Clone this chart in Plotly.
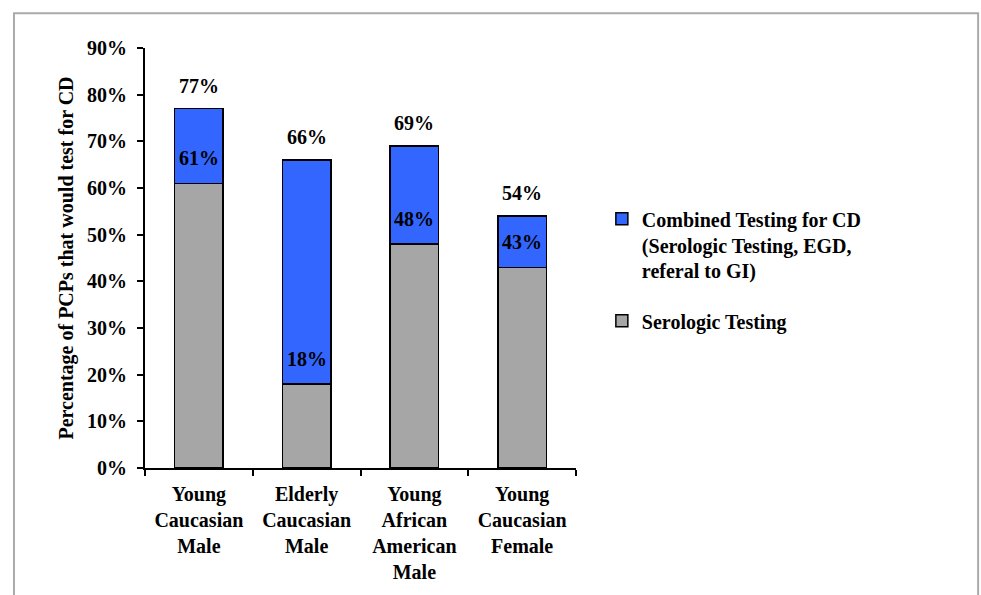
import plotly.graph_objects as go

categories = ["Young<br>Caucasian<br>Male", "Elderly<br>Caucasian<br>Male",
              "Young<br>African<br>American<br>Male", "Young<br>Caucasian<br>Female"]
serologic = [61, 18, 48, 43]
combined_total = [77, 66, 69, 54]
combined_extra = [t - s for t, s in zip(combined_total, serologic)]

FONT = "Liberation Serif"
FS = 20
BLUE = "#3366FF"
GRAY = "#A6A6A6"

def bold_font(size=FS):
    return dict(family=FONT, size=size, color="black", weight="bold")

fig = go.Figure()
fig.add_trace(go.Bar(x=categories, y=serologic, name="Serologic Testing",
                     marker=dict(color=GRAY, line=dict(color="black", width=1.5)),
                     legendrank=2, legendgroup="b"))
fig.add_trace(go.Bar(x=categories, y=combined_extra,
                     name="Combined Testing for CD<br>(Serologic Testing, EGD,<br>referal to GI)",
                     marker=dict(color=BLUE, line=dict(color="black", width=1.5)),
                     legendrank=1, legendgroup="a"))

for c, s, t in zip(categories, serologic, combined_total):
    fig.add_annotation(x=c, y=t, text=f"{t}%", showarrow=False, yanchor="bottom",
                       yshift=10, font=bold_font())
    fig.add_annotation(x=c, y=s, text=f"{s}%", showarrow=False, yanchor="bottom",
                       yshift=12, font=bold_font())

fig.add_shape(type="rect", xref="paper", yref="paper", x0=-0.304, x1=1.933, y0=-0.32, y1=1.083,
              line=dict(color="#AAAAAA", width=2), layer="below")

fig.update_layout(
    width=981, height=595,
    margin=dict(l=145, r=405, t=48, b=127),
    paper_bgcolor="white", plot_bgcolor="white",
    barmode="stack", bargap=0.55,
    showlegend=True,
    legend=dict(x=1.06, y=0.64, xanchor="left", yanchor="top", traceorder="grouped",
                tracegroupgap=21, valign="top", itemwidth=30,
                font=bold_font()),
    font=dict(family=FONT, size=FS, color="black"),
)
fig.update_yaxes(range=[0, 90], dtick=10, ticksuffix="%", showline=True, linecolor="black",
                 linewidth=2, ticks="outside", ticklen=6, tickwidth=2, tickcolor="black",
                 showgrid=False, zeroline=False, ticklabelstandoff=6,
                 tickfont=bold_font(),
                 title=dict(text="Percentage of PCPs that would test for CD", standoff=8,
                            font=bold_font()))
fig.update_xaxes(showline=True, linecolor="black", linewidth=2, ticks="outside", ticklen=6,
                 tickwidth=2, tickcolor="black", tickson="boundaries", ticklabelstandoff=7,
                 tickfont=bold_font())

fig.write_html("out.html")
